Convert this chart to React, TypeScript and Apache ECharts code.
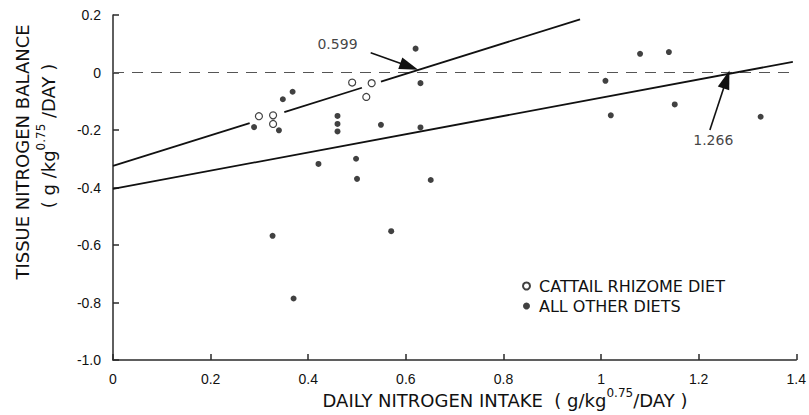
import React, { useEffect, useRef } from "react";
import * as echarts from "echarts";

// Cattail rhizome diet (open circles): [intake, balance]
const cattailPoints: number[][] = [
  [0.299, -0.152], [0.328, -0.149], [0.328, -0.179],
  [0.49, -0.035], [0.53, -0.037], [0.519, -0.085],
];

// All other diets (filled dots)
const otherPoints: number[][] = [
  [0.289, -0.19], [0.34, -0.201], [0.348, -0.093], [0.368, -0.067],
  [0.46, -0.151], [0.46, -0.179], [0.46, -0.205], [0.549, -0.182],
  [0.62, 0.083], [0.63, -0.037], [0.63, -0.191], [0.421, -0.318],
  [0.498, -0.3], [0.5, -0.37], [0.651, -0.374], [0.327, -0.568],
  [0.37, -0.786], [0.57, -0.552], [1.009, -0.029], [1.02, -0.149],
  [1.08, 0.065], [1.139, 0.071], [1.151, -0.111], [1.327, -0.154],
];

// Regression line for cattail diet, drawn in segments (broken around markers)
const cattailFitSegments: number[][][] = [
  [[0, -0.325], [0.28, -0.176]],
  [[0.351, -0.138], [0.51, -0.053]],
  [[0.549, -0.032], [0.957, 0.185]],
];
// Regression line for all other diets
const otherFit: number[][] = [[0, -0.405], [1.393, 0.037]];
// Zero-balance reference line
const zeroLine: number[][] = [[0, 0], [1.4, 0]];

// Annotations: label position and arrow (tail -> tip)
const annotLabels = [
  { name: "0.599", value: [0.46, 0.099] },
  { name: "1.266", value: [1.23, -0.235] },
];
const annotArrows: number[][][] = [
  [[0.528, 0.069], [0.607, 0.021]],
  [[1.223, -0.2], [1.257, -0.024]],
];

const xTicks = { min: 0, max: 1.4, interval: 0.2 };
const yTicks = { min: -1, max: 0.2, interval: 0.2 };

const FONT = "Liberation Sans";
const TFONT = "DejaVu Sans";
const INK = "#111";
const AXIS = "#2a2a2a";

export default function App() {
  const ref = useRef<HTMLDivElement>(null);
  useEffect(() => {
    if (!ref.current) return;
    const chart = echarts.init(ref.current, undefined, { renderer: "svg" });
    const lineStyle = { color: INK, width: 1.8 };
    const series: any[] = [];
    series.push({
      type: "line",
      data: zeroLine,
      symbol: "none",
      silent: true,
      lineStyle: { color: "#555", width: 1.2, type: [11, 8] },
    });
    cattailFitSegments.forEach((seg) =>
      series.push({ type: "line", data: seg, symbol: "none", silent: true, lineStyle })
    );
    series.push({ type: "line", data: otherFit, symbol: "none", silent: true, lineStyle });
    series.push({
      name: "CATTAIL RHIZOME DIET",
      type: "scatter",
      data: cattailPoints,
      symbol: "circle",
      symbolSize: 7,
      itemStyle: { color: "#fff", borderColor: INK, borderWidth: 1.2 },
    });
    series.push({
      name: "ALL OTHER DIETS",
      type: "scatter",
      data: otherPoints,
      symbol: "circle",
      symbolSize: 6,
      itemStyle: { color: INK },
    });
    series.push({
      type: "scatter",
      data: annotLabels,
      symbolSize: 0,
      silent: true,
      label: {
        show: true,
        position: "inside",
        formatter: (p: any) => p.name,
        color: INK,
        fontFamily: TFONT,
        fontSize: 14,
      },
      markLine: {
        silent: true,
        symbol: ["none", "triangle"],
        symbolSize: [12, 19],
        label: { show: false },
        lineStyle: { color: INK, width: 1.6, type: "solid" },
        itemStyle: { color: INK },
        data: annotArrows.map((a) => [{ coord: a[0] }, { coord: a[1] }]),
      },
    });

    const titleRich = {
      a: { fontFamily: TFONT, fontSize: 18, color: INK, fill: INK },
      s: { fontFamily: TFONT, fontSize: 12, color: INK, fill: INK, padding: [0, 0, 14, 0] },
    };

    chart.setOption({
      animation: false,
      grid: { left: 113, right: 11, top: 15, bottom: 55 },
      xAxis: {
        type: "value",
        position: "bottom",
        min: xTicks.min,
        max: xTicks.max,
        interval: xTicks.interval,
        splitLine: { show: false },
        axisLine: { show: true, onZero: false, lineStyle: { color: AXIS, width: 1.5 } },
        axisTick: { show: true, inside: true, length: 6, lineStyle: { color: AXIS, width: 1.5 } },
        axisLabel: {
          color: INK,
          fontFamily: FONT,
          fontSize: 14,
          margin: 12,
          formatter: (v: number) => (Number.isInteger(Math.round(v * 1000) / 1000) ? String(Math.round(v)) : v.toFixed(1)),
        },
      },
      yAxis: {
        type: "value",
        position: "left",
        min: yTicks.min,
        max: yTicks.max,
        interval: yTicks.interval,
        splitLine: { show: false },
        axisLine: { show: true, onZero: true, lineStyle: { color: AXIS, width: 1.5 } },
        axisTick: { show: true, inside: true, length: 6, lineStyle: { color: AXIS, width: 1.5 } },
        axisLabel: {
          color: INK,
          fontFamily: FONT,
          fontSize: 14,
          margin: 12,
          formatter: (v: number) => {
            const r = Math.round(v * 10) / 10;
            if (r === 0) return "0";
            if (r === -1) return "-1.0";
            return r.toFixed(1);
          },
        },
      },
      legend: {
        data: ["CATTAIL RHIZOME DIET", "ALL OTHER DIETS"],
        orient: "vertical",
        left: 517,
        top: 273,
        icon: "circle",
        itemWidth: 7,
        itemHeight: 7,
        itemGap: 4,
        selectedMode: false,
        textStyle: { fontFamily: TFONT, fontSize: 16, color: INK, padding: [0, 0, 0, 4] },
      },
      graphic: [
        {
          type: "text",
          x: 22,
          y: 152,
          rotation: Math.PI / 2,
          style: {
            text: "TISSUE NITROGEN BALANCE",
            fontFamily: TFONT,
            fontSize: 18,
            fill: INK,
            textAlign: "center",
            textVerticalAlign: "middle",
          },
        },
        {
          type: "text",
          x: 48,
          y: 136,
          rotation: Math.PI / 2,
          style: {
            text: "{a|( g /kg}{s|0.75}{a| /DAY )}",
            fill: INK,
            textAlign: "center",
            textVerticalAlign: "middle",
            rich: titleRich,
          },
        },
        {
          type: "text",
          x: 505,
          y: 400,
          style: {
            text: "{a|DAILY NITROGEN INTAKE  ( g/kg}{s|0.75}{a|/DAY )}",
            fill: INK,
            textAlign: "center",
            textVerticalAlign: "middle",
            rich: titleRich,
          },
        },
      ],
      series,
    });
    return () => chart.dispose();
  }, []);
  return <div ref={ref} style={{ width: 809, height: 415, position: "absolute", left: 0, top: 0 }} />;
}
